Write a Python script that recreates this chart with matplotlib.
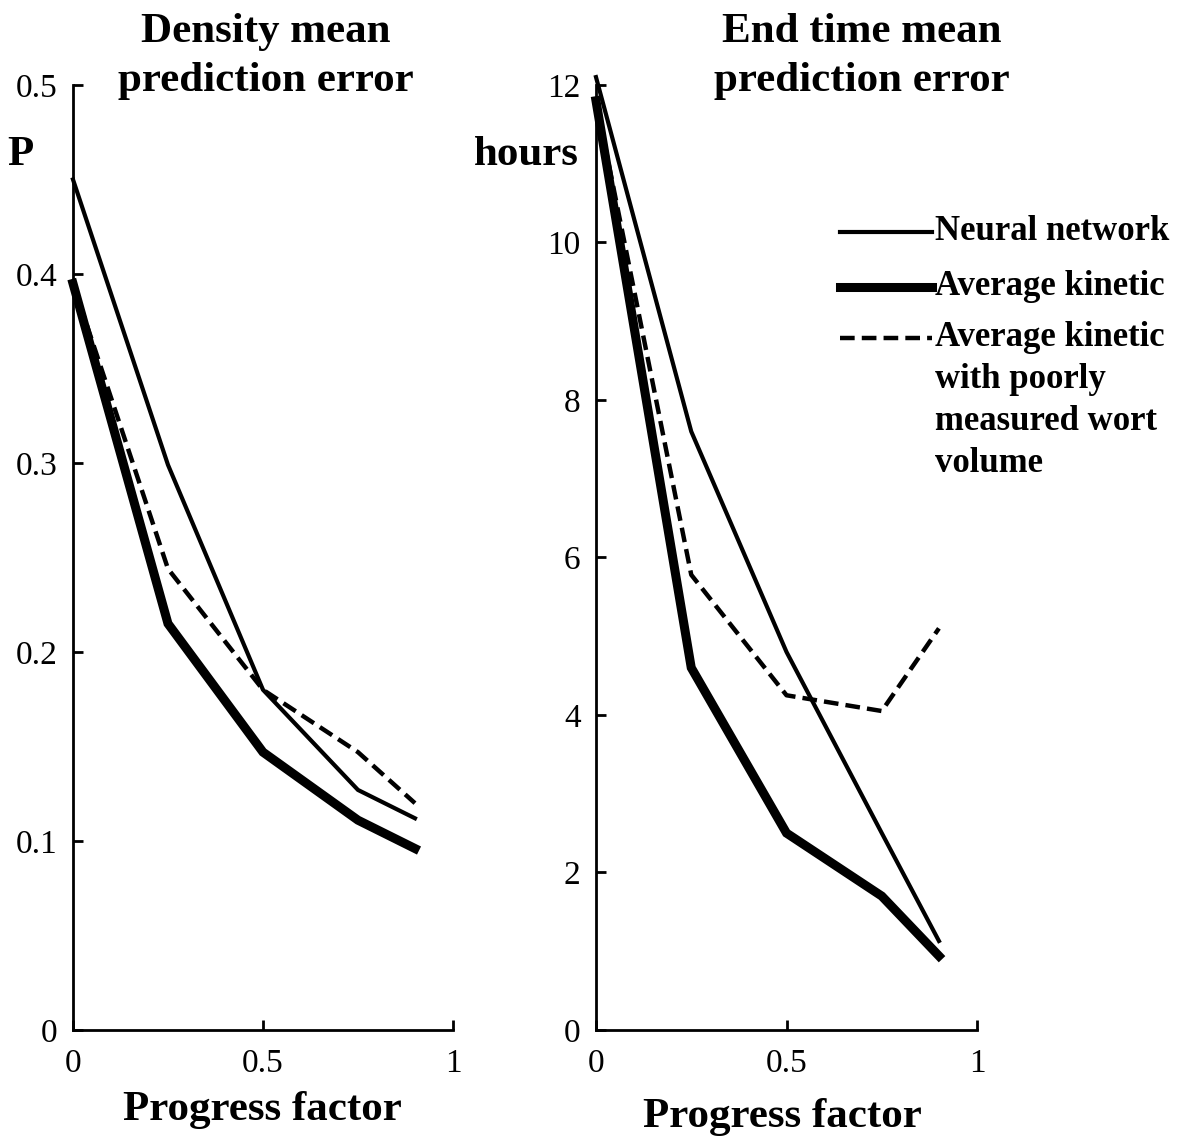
import matplotlib
matplotlib.use('Agg')
import matplotlib.pyplot as plt
from matplotlib.lines import Line2D

plt.rcParams['font.family'] = ['Liberation Serif', 'DejaVu Serif']

# progress factor values
progress = [0, 0.25, 0.5, 0.75, 0.9]

# density mean prediction error (P)
dens_nn = [0.45, 0.299, 0.18, 0.127, 0.112]
dens_ak = [0.395, 0.215, 0.147, 0.111, 0.096]
dens_ak_poor = [0.395, 0.244, 0.18, 0.147, 0.12]

# end time mean prediction error (hours)
end_nn = [12.1, 7.6, 4.8, 2.5, 1.13]
end_ak = [11.8, 4.6, 2.5, 1.7, 0.94]
end_ak_poor = [11.8, 5.78, 4.25, 4.05, 5.1]

dens_ticks = [0, 0.1, 0.2, 0.3, 0.4, 0.5]
end_ticks = [0, 2, 4, 6, 8, 10, 12]
x_ticks = [0, 0.5, 1]
x_ticklabels = ['0', '0.5', '1']

legend_labels = ['Neural network', 'Average kinetic',
                 'Average kinetic\nwith poorly\nmeasured wort\nvolume']

NN = dict(color='black', lw=3.0, solid_joinstyle='miter')
AK = dict(color='black', lw=6.5, solid_joinstyle='miter')
PO = dict(color='black', lw=3.2, ls=(0, (3.3, 1.6)))

fig = plt.figure(figsize=(11.79, 11.42), dpi=100, facecolor='white')
ax1 = fig.add_axes([0.0619, 0.0981, 0.3223, 0.8275])
ax2 = fig.add_axes([0.5055, 0.0981, 0.3232, 0.8275])


def style(ax, yticks, ylim, ylabels):
    ax.spines[['top', 'right']].set_visible(False)
    for s in ['left', 'bottom']:
        ax.spines[s].set_linewidth(2.0)
    ax.set_xlim(0, 1)
    ax.set_ylim(*ylim)
    ax.set_xticks(x_ticks)
    ax.set_xticklabels(x_ticklabels)
    ax.set_yticks(yticks)
    ax.set_yticklabels(ylabels)
    ax.tick_params(direction='in', length=7, width=2.0, labelsize=24)
    ax.tick_params(axis='y', pad=11)
    ax.tick_params(axis='x', pad=13)


ax1.plot(progress, dens_nn, **NN)
ax1.plot(progress, dens_ak, **AK)
ax1.plot(progress, dens_ak_poor, **PO)
style(ax1, dens_ticks, (0, 0.5), ['0' if t == 0 else f'{t:.1f}' for t in dens_ticks])

ax2.plot(progress, end_nn, **NN)
ax2.plot(progress, end_ak, **AK)
ax2.plot(progress, end_ak_poor, **PO)
style(ax2, end_ticks, (0, 12), [str(t) for t in end_ticks])
for ax in (ax1, ax2):
    for line in ax.get_lines():
        line.set_clip_on(False)

# titles and labels
bold = dict(fontsize=31, fontweight='bold', ha='center', linespacing=1.37)
fig.text(266 / 1179, 1 - 13 / 1142, 'Density mean\nprediction error', va='top', **bold)
fig.text(862 / 1179, 1 - 13 / 1142, 'End time mean\nprediction error', va='top', **bold)
fig.text(262 / 1179, 1 - 1110 / 1142, 'Progress factor', va='center', **bold)
fig.text(782 / 1179, 1 - 1117 / 1142, 'Progress factor', va='center', **bold)
fig.text(20 / 1179, 1 - 155 / 1142, 'P', va='center', **bold)
fig.text(526 / 1179, 1 - 155 / 1142, 'hours', va='center', **bold)

# legend drawn by hand so the handle sits on the first text line
rows_y = [232, 287, 338]
for style_kw, label, yy in zip([NN, AK, PO], legend_labels, rows_y):
    yf = 1 - yy / 1142
    fig.add_artist(Line2D([840 / 1179, 932 / 1179], [yf, yf],
                          transform=fig.transFigure, **style_kw))
    fig.text(935 / 1179, 1 - (yy - 17) / 1142, label, fontsize=25,
             fontweight='bold', ha='left', va='top', linespacing=1.36)

fig.savefig('out.png', dpi=100, facecolor='white')
